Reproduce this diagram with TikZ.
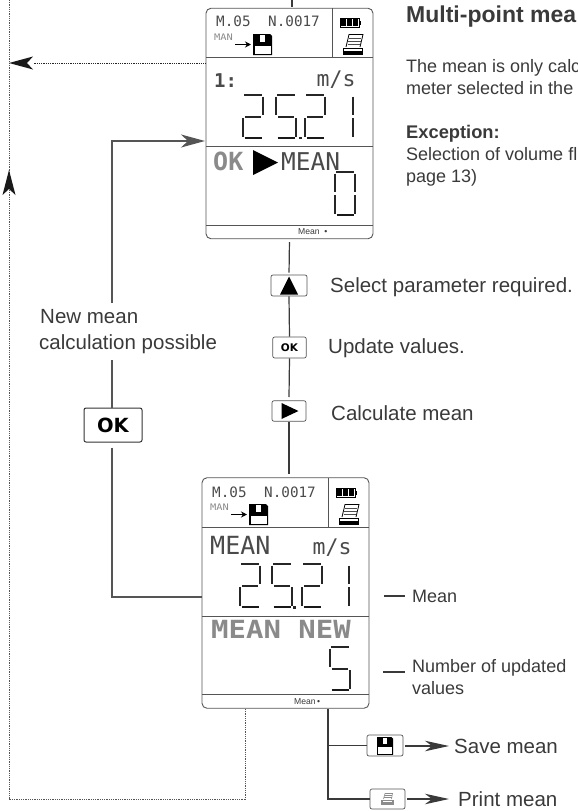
\documentclass[tikz,border=0pt]{standalone}
\usepackage{fontspec}
\setmainfont{Liberation Sans}
\newfontfamily\lcd{DejaVu Sans Mono}
\newfontfamily\keyfont{DejaVu Sans}
\usetikzlibrary{arrows.meta}
\definecolor{ink}{HTML}{3A3A3A}
\definecolor{frame}{HTML}{555555}
\definecolor{lcdgray}{HTML}{8A8A8A}
\definecolor{lcddark}{HTML}{4A4A4A}
\newcommand\SegT{\draw[segthin] (1,0)--(19,0);}
\newcommand\SegUL{\draw[segthin] (0,1.5)--(0,20);}
\newcommand\SegUR{\draw[segthin] (20,1.5)--(20,20);}
\newcommand\SegM{\draw[segmid] (2,21.5)--(18,21.5);}
\newcommand\SegLL{\draw[segthin] (0,23)--(0,41.5);}
\newcommand\SegLR{\draw[segthin] (20,23)--(20,41.5);}
\newcommand\SegB{\draw[segthick] (1.5,43)--(18.5,43);}
\newcommand\ScreenBody[2]{%
  \draw[rule] (0,49)--(167,49);
  \draw[rule] (126,0)--(126,49);
  \draw[rule] (0,138)--(167,138);
  \draw[rule] (0,#1)--(167,#1);
  \node[lcdtxt,text=lcddark] (#2hdr) at (10,19) {\lcd\fontsize{14.3}{16}\selectfont M.05};
  \node[lcdtxt,text=lcddark] (#2num) at (62,19) {\lcd\fontsize{14.3}{16}\selectfont N.0017};
  \node[lcdtxt,text=lcdgray] (#2man) at (8,32) {\lcd\fontsize{9}{10}\selectfont\scalebox{1.15}[1]{MAN}};
  \draw[line width=1.7pt,-{Stealth[length=6pt,width=6pt]}] (29,36.5)--(45,36.5);
  \pic at (47,26) {floppyicon};
  \pic at (134,10) {batteryicon};
  \pic at (137,26) {printericon};
}
\tikzset{
  x=1pt,y=-1pt,
  every node/.style={inner sep=0pt,text=ink},
  screen/.style={draw=frame,line width=.9pt,rounded corners=5pt,minimum width=167pt,minimum height=230.5pt},
  rule/.style={draw=frame,line width=.7pt},
  keybox/.style={draw=frame,line width=.7pt,rounded corners=2pt,fill=white},
  conn/.style={draw=ink,line width=1.2pt},
  loopline/.style={draw=frame,line width=1.5pt},
  dotline/.style={draw=frame,line width=.9pt,dash pattern=on .9pt off .9pt},
  headL/.style={-{Stealth[length=24pt,width=13pt,inset=7pt]}},
  headS/.style={-{Stealth[length=24pt,width=10.5pt,inset=7pt]}},
  segthin/.style={line width=1.8pt,draw=black!85},
  segmid/.style={line width=2pt,draw=black!85},
  segthick/.style={line width=2.8pt,draw=black!90},
  lcdtxt/.style={anchor=base west},
  lab/.style={anchor=base west,font=\fontsize{20.5}{26}\selectfont,align=left},
  note/.style={anchor=base west,font=\fontsize{18}{22}\selectfont},
  notebold/.style={anchor=base west,font=\fontsize{18.3}{22}\selectfont\bfseries},
  foot/.style={anchor=base west,font=\fontsize{8.6}{9}\selectfont},
  pics/floppyicon/.style={code={
    \fill[black] (0,0)--(17,0)--(19,2)--(19,21)--(0,21)--cycle;
    \fill[white] (1.5,12)--(17.5,12)--(17.5,19.5)--(1.5,19.5)--cycle;
    \fill[white] (7,1)--(12,1)--(12,8)--(7,8)--cycle;
  }},
  pics/batteryicon/.style={code={
    \draw[black,line width=.6pt] (0,0) rectangle (19,9);
    \fill[black] (1,1) rectangle (6,8);
    \fill[black] (7,1) rectangle (12,8);
    \fill[black] (13,1) rectangle (18,8);
    \fill[black] (19.5,2.5) rectangle (21,6.5);
  }},
  pics/printericon/.style={code={
    \draw[black,line width=.8pt] (3,13)--(6,0.5)--(20,0.5)--(17,13);
    \draw[black!70,line width=.6pt] (6,4)--(18,4) (5.2,7)--(17.5,7) (4.5,10)--(17,10);
    \draw[black,line width=.8pt] (0.5,20)--(0.5,14)--(19.5,14)--(19.5,20);
    \fill[black] (0,17) rectangle (20,20.5);
  }},
  pics/printerkey/.style={code={
    \draw[black!45,line width=.6pt] (2.5,6)--(4,0.5)--(11.5,0.5)--(10.5,6);
    \draw[black!45,line width=.5pt] (3.5,2.5)--(10.8,2.5) (3,4.5)--(10.6,4.5);
    \fill[black!45] (0,6.5) rectangle (13,12);
    \fill[white] (2,8) rectangle (11,9);
  }},
}
\begin{document}
\begin{tikzpicture}
\useasboundingbox (0,0) rectangle (578,811);
\clip (0,0) rectangle (578,811);

% screens
\node[screen] (s1) at (289.5,123.5) {};
\node[screen] (s2) at (285.5,593) {};

% top screen contents
\begin{scope}[shift={(206,8)}]
  \ScreenBody{217}{a}
  \node[lcdtxt,text=lcddark] (aone) at (8,79) {\lcd\bfseries\fontsize{19}{20}\selectfont 1:};
  \node[lcdtxt,text=lcddark] (aunit) at (110.5,78.5) {\lcd\fontsize{21.5}{22}\selectfont m/s};
  \node[lcdtxt,text=lcdgray] (aok) at (7,162) {\lcd\bfseries\fontsize{25}{26}\selectfont OK};
  \fill[black] (47,142)--(47,167)--(72,154.5)--cycle;
  \node[lcdtxt,text=lcddark] (amean) at (75,162) {\lcd\fontsize{24.5}{26}\selectfont MEAN};
  \begin{scope}[shift={(37,87)}] \SegT\SegUR\SegM\SegLL\SegB \end{scope}
  \begin{scope}[shift={(70,87)}] \SegT\SegUL\SegM\SegLR\SegB \end{scope}
  \fill[black!85] (93,128.5) rectangle (95.5,131);
  \begin{scope}[shift={(99,87)}] \SegT\SegUR\SegM\SegLL\SegB \end{scope}
  \begin{scope}[shift={(127,87)}] \SegUR\SegLR \end{scope}
  \begin{scope}[shift={(129,164)}] \SegT\SegUL\SegUR\SegLL\SegLR\SegB \end{scope}
  \node[foot] (afoot) at (92,226) {Mean\ \ •};
\end{scope}

% bottom screen contents
\begin{scope}[shift={(202,478)}]
  \ScreenBody{216}{b}
  \node[lcdtxt,text=lcddark] (bmean) at (8,76) {\lcd\fontsize{25}{26}\selectfont MEAN};
  \node[lcdtxt,text=lcddark] (bunit) at (110.5,76) {\lcd\fontsize{21.5}{22}\selectfont m/s};
  \node[lcdtxt,text=lcdgray] (bnew) at (9,160) {\lcd\bfseries\fontsize{25}{26}\selectfont\scalebox{1.16}[1]{MEAN NEW}};
  \begin{scope}[shift={(38,86)}] \SegT\SegUR\SegM\SegLL\SegB \end{scope}
  \begin{scope}[shift={(70,86)}] \SegT\SegUL\SegM\SegLR\SegB \end{scope}
  \fill[black!85] (91,128) rectangle (93.5,130.5);
  \begin{scope}[shift={(100,86)}] \SegT\SegUR\SegM\SegLL\SegB \end{scope}
  \begin{scope}[shift={(127,86)}] \SegUR\SegLR \end{scope}
  \begin{scope}[shift={(128,169)}] \SegT\SegUL\SegM\SegLR\SegB \end{scope}
  \node[foot] (bfoot) at (92,226) {Mean\,•};
\end{scope}

% keys
\node[keybox,minimum width=36pt,minimum height=21pt] (kUp) at (289,285.5) {};
\fill[black] (kUp.center) ++(-9,9)--++(18,0)--++(-9,-18)--cycle;
\node[keybox,minimum width=33.5pt,minimum height=21pt] (kOk) at (289.5,347.5) {\keyfont\bfseries\color{black}\fontsize{10.5}{12}\selectfont OK};
\node[keybox,minimum width=34pt,minimum height=20.5pt] (kRight) at (289,411) {};
\fill[black] (kRight.center) ++(-7.5,-8)--++(0,16)--++(17,-8)--cycle;
\node[keybox,draw=black!80,line width=1pt,minimum width=58pt,minimum height=34pt] (kBig) at (113,425) {\keyfont\bfseries\color{black}\fontsize{19.5}{20}\selectfont OK};
\node[keybox,minimum width=36pt,minimum height=21pt] (kSave) at (385,745.5) {};
\pic[scale=.85] at (377,737) {floppyicon};
\node[keybox,minimum width=35pt,minimum height=20pt] (kPrint) at (387.5,799) {};
\pic at (381,793) {printerkey};

% coordinates for connector ends
\coordinate (top) at (292,0);
\coordinate (topEnd) at (292,6.5);
\coordinate (loopTop) at (112,141);
\coordinate (loopTip) at (205,141);
\coordinate (loopLow) at (112,597);
\coordinate (loopEnd) at (202,597);
\coordinate (gapA) at (112,303);
\coordinate (gapB) at (112,360);
\coordinate (trunk) at (328,708.5);
\coordinate (trunkSave) at (328,745.5);
\coordinate (trunkPrint) at (328,799);
\coordinate (saveTip) at (449,746);
\coordinate (printTip) at (449,799);
\coordinate (saveOut) at (405,746);
\coordinate (printOut) at (407,799);
\coordinate (dStart) at (245,709);
\coordinate (dCorner) at (245,799);
\coordinate (dLeft) at (9,799);
\coordinate (dUp) at (9,170);
\coordinate (dTop) at (9,0);
\coordinate (dFrom) at (205.5,63);
\coordinate (dTip) at (9,63);
\coordinate (markA) at (384,596);
\coordinate (markAe) at (405,596);
\coordinate (markB) at (383,672);
\coordinate (markBe) at (405,672);

% connectors
\draw[conn] (top)--(topEnd);
\draw[conn,shorten <=3pt,shorten >=2pt] (s1.south)--(kUp.north);
\draw[conn] (kUp.south)--(kOk.north);
\draw[conn] (kOk.south)--(kRight.north |- 0,397);
\draw[conn] (kRight.south)--(289,474);
\draw[loopline,headL] (gapA)--(loopTop)--(loopTip);
\draw[loopline] (gapB)--(kBig.north -| gapB);
\draw[loopline,shorten <=5pt] (kBig.south -| gapB)--(loopLow)--(loopEnd);
\draw[conn,line width=1.4pt] (trunk)--(trunkPrint)--(kPrint.west);
\draw[conn,line width=1.4pt] (trunkSave)--(kSave.west);
\draw[conn,headS] (saveOut)--(saveTip);
\draw[conn,headS] (printOut)--(printTip);
\draw[dotline] (dStart)--(dCorner)--(dLeft)--(dUp);
\draw[dotline] (dUp)--(dTop);
\fill[black!90] (dUp)--++(-6.5,25)--++(6.5,-6)--++(6.5,6)--cycle;
\draw[dotline,draw=black!85] (dFrom)--(33,63);
\fill[black!90] (dTip)--(33,56.5)--(27,63)--(33,69.5)--cycle;
\draw[conn,line width=1.6pt] (markA)--(markAe);
\draw[conn,line width=1.6pt] (markB)--(markBe);

% labels
\node[lab] (lNew) at (40,323) {New mean};
\node[lab] (lCalc) at (39,349) {calculation possible};
\node[lab] (lSel) at (330,292) {Select parameter required.};
\node[lab] (lUpd) at (328,353) {Update values.};
\node[lab] (lMean) at (331,420) {Calculate mean};
\node[lab] (lSave) at (454,753) {Save mean};
\node[lab] (lPrint) at (458,806) {Print mean};
\node[note] (lM) at (412,602) {Mean};
\node[note] (lN) at (412,672) {Number of updated};
\node[note] (lV) at (412,694) {values};
\node[anchor=base west,font=\fontsize{23}{26}\selectfont\bfseries] (hT) at (406,23) {Multi-point mea};
\node[note] (t1) at (406,72) {The mean is only calc};
\node[note] (t2) at (406,94) {meter selected in the};
\node[notebold] (t3) at (406,138) {Exception:};
\node[note] (t4) at (406,160) {Selection of volume fl};
\node[note] (t5) at (406,182) {page 13)};
\end{tikzpicture}
\end{document}
